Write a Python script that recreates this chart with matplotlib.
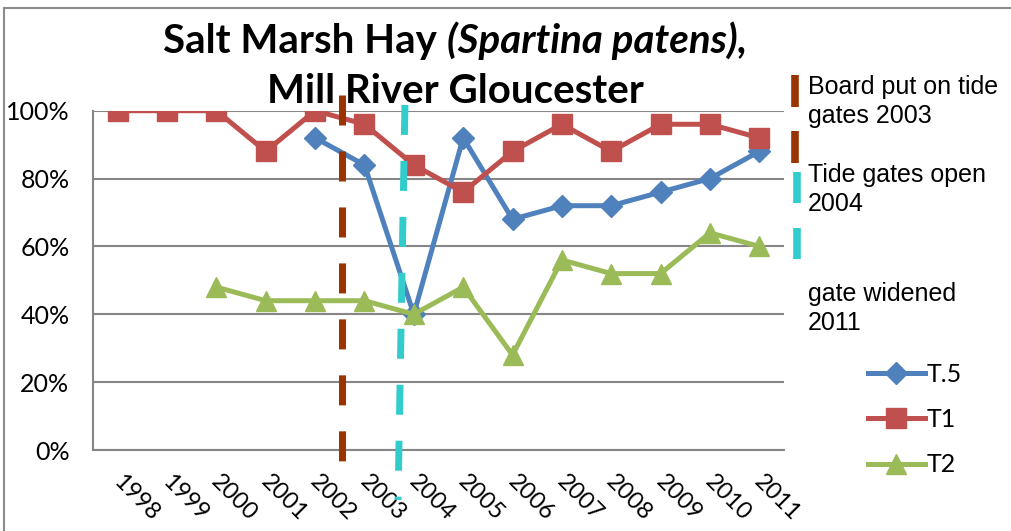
import matplotlib.pyplot as plt
import numpy as np
from matplotlib.lines import Line2D
from matplotlib.transforms import ScaledTranslation

plt.rcParams['lines.scale_dashes'] = False

W, H = 1011, 531

years = ['1998', '1999', '2000', '2001', '2002', '2003', '2004',
         '2005', '2006', '2007', '2008', '2009', '2010', '2011']
t05 = [np.nan, np.nan, np.nan, np.nan, 92, 84, 40, 92, 68, 72, 72, 76, 80, 88]
t1 = [100, 100, 100, 88, 100, 96, 84, 76, 88, 96, 88, 96, 96, 92]
t2 = [np.nan, np.nan, 48, 44, 44, 44, 40, 48, 28, 56, 52, 52, 64, 60]
yticks = [0, 20, 40, 60, 80, 100]

# event markers (category position, top % , bottom %)
board_x = (4.55, 4.55)
board_y = (104.6, -3.5)
open_x = (5.82, 5.68)
open_y = (101.7, -14.7)

blue, red, green = '#4F81BD', '#C0504D', '#9BBB59'
brown, cyan = '#993300', '#33CCCC'
grid_col = '#868686'
calibri = ['Lato', 'DejaVu Sans']
arial = ['Liberation Sans', 'DejaVu Sans']

fig = plt.figure(figsize=(W / 100, H / 100), dpi=100)
ax = fig.add_axes([93 / W, (H - 450) / H, 691 / W, (450 - 110.7) / H])

x = np.arange(len(years))
ax.plot(x, t05, color=blue, lw=3.6, marker='D', ms=11, label='T.5', zorder=3)
ax.plot(x, t1, color=red, lw=3.6, marker='s', ms=14, label='T1', zorder=3)
ax.plot(x, t2, color=green, lw=3.6, marker='^', ms=15, label='T2', zorder=3)

ax.set_xlim(-0.5, len(years) - 0.5)
ax.set_ylim(0, 100)
ax.set_yticks(yticks)
ax.set_yticklabels([f'{v}%' for v in yticks], fontsize=18, family=calibri)
ax.set_xticks(x)
ax.tick_params(axis='both', length=0)
ax.tick_params(axis='y', pad=17)
ax.tick_params(axis='x', pad=13)
ax.set_xticklabels(years, fontsize=17, family=calibri, rotation=-45,
                   ha='left', va='top', rotation_mode='anchor')
# nudge the slanted year labels right/down
shift = ScaledTranslation(6 / 100, -3 / 100, fig.dpi_scale_trans)
for tick in ax.xaxis.get_major_ticks():
    tick.label1.set_transform(tick.label1.get_transform() + shift)
ax.grid(axis='y', color=grid_col, lw=1.5)
ax.set_axisbelow(True)
for s in ['top', 'right']:
    ax.spines[s].set_visible(False)
for s in ['left', 'bottom']:
    ax.spines[s].set_color(grid_col)
    ax.spines[s].set_linewidth(1.5)

# dashed event lines on top of the series
ax.plot(board_x, board_y, color=brown, lw=5, dashes=(21.6, 18.7),
        clip_on=False, zorder=5, solid_capstyle='butt', dash_capstyle='butt')
ax.plot(open_x, open_y, color=cyan, lw=5, dashes=(21.6, 18.7),
        clip_on=False, zorder=5, solid_capstyle='butt', dash_capstyle='butt')

leg = ax.legend(loc='upper left', bbox_to_anchor=(855 / W, 1 - 350 / H),
                bbox_transform=fig.transFigure, frameon=False,
                prop={'family': calibri, 'size': 18}, handlelength=2.3,
                handletextpad=0.05, labelspacing=0.9, borderpad=0)

# event key on the right
def key_bar(xp, y0, y1, col):
    fig.add_artist(Line2D([xp / W, xp / W], [1 - y0 / H, 1 - y1 / H],
                          color=col, lw=5.5, solid_capstyle='butt'))

key_bar(794.5, 75, 107, brown)
key_bar(794.5, 131, 163, brown)
key_bar(797, 172, 203, cyan)
key_bar(797, 228, 259, cyan)

notes = [('Board put on tide\ngates 2003', 95),
         ('Tide gates open\n2004', 183),
         ('gate widened\n2011', 302)]
for txt, base in notes:
    fig.text(808 / W, 1 - (base - 20) / H, txt, fontsize=18, family=arial,
             va='top', ha='left', linespacing=1.25)

# two-line title with the species name in italics
r = fig.canvas.get_renderer()
parts = [('Salt Marsh Hay ', 'normal'), ('(Spartina patens),', 'italic')]
objs = []
for t, st in parts:
    objs.append(fig.text(0, 1 - 53 / H, t, fontsize=29, family=calibri,
                         weight='bold', style=st, va='baseline'))
widths = [o.get_window_extent(r).width for o in objs]
xs = 455 - sum(widths) / 2
for o, w in zip(objs, widths):
    o.set_x(xs / W)
    xs += w
fig.text(455 / W, 1 - 103 / H, 'Mill River Gloucester', fontsize=29,
         family=calibri, weight='bold', ha='center', va='baseline')

# chart frame
fig.add_artist(Line2D([4 / W, 4 / W], [0, 1 - 8 / H], color='#8c8c8c', lw=1.5))
fig.add_artist(Line2D([4 / W, 1], [1 - 8 / H, 1 - 8 / H], color='#8c8c8c', lw=1.5))

fig.savefig('out.png', dpi=100)
